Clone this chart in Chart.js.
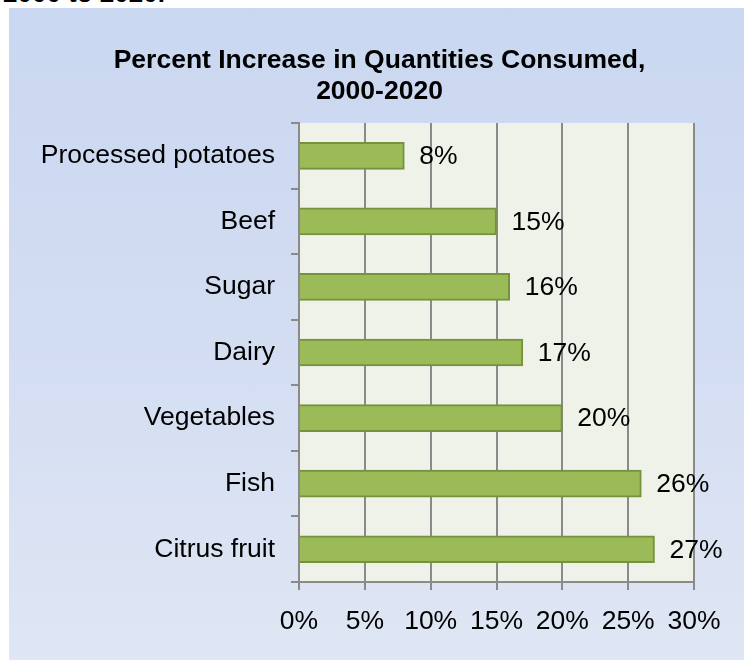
<!DOCTYPE html>
<html>
<head>
<meta charset="utf-8">
<script src="https://cdn.jsdelivr.net/npm/chart.js@4"></script>
<style>
  html, body { margin: 0; padding: 0; background: #ffffff; width: 744px; height: 660px; overflow: hidden; }
  #heading {
    position: absolute; left: 3px; top: -20px;
    font: bold 26px "Liberation Sans", Arial, sans-serif; line-height: 26px; color: #000;
    white-space: nowrap;
  }
  #box {
    position: absolute; left: 9px; top: 8px; width: 735px; height: 652px;
    background: linear-gradient(to bottom, #c9d7f0 0%, #d3ddf2 50%, #dfe6f4 100%);
  }
  canvas { display: block; }
</style>
</head>
<body>
<div id="heading">2000 to 2020.</div>
<div id="box"><canvas id="chart" width="735" height="652"></canvas></div>
<script>
// Food groups and their percent increase in quantities consumed
const categories = ['Processed potatoes', 'Beef', 'Sugar', 'Dairy', 'Vegetables', 'Fish', 'Citrus fruit'];
const increases = [8, 15, 16, 17, 20, 26, 27];
const xTicks = [0, 5, 10, 15, 20, 25, 30];
const titleLines = ['Percent Increase in Quantities Consumed,', '2000-2020'];

const FONT = '"Liberation Sans", Arial, sans-serif';
const GRID = '#8a8a8a';
const TEXT_SIZE = 26.5;

// Light fill behind the plotting area
const plotBackground = {
  id: 'plotBackground',
  beforeDraw(chart) {
    const { ctx, chartArea: a } = chart;
    ctx.save();
    ctx.fillStyle = '#eff2e9';
    ctx.fillRect(a.left, a.top, a.right - a.left, a.bottom - a.top);
    ctx.restore();
  }
};

// Value labels to the right of each bar
const valueLabels = {
  id: 'valueLabels',
  afterDatasetsDraw(chart) {
    const { ctx } = chart;
    const meta = chart.getDatasetMeta(0);
    ctx.save();
    ctx.font = TEXT_SIZE + 'px ' + FONT;
    ctx.fillStyle = '#000';
    ctx.textAlign = 'left';
    ctx.textBaseline = 'middle';
    meta.data.forEach((bar, i) => {
      ctx.fillText(chart.data.datasets[0].data[i] + '%', bar.x + 15, bar.y + 1);
    });
    ctx.restore();
  }
};

new Chart(document.getElementById('chart'), {
  type: 'bar',
  data: {
    labels: categories,
    datasets: [{
      data: increases,
      backgroundColor: '#9bbb59',
      borderColor: '#76923c',
      borderWidth: 2,
      barThickness: 27
    }]
  },
  options: {
    indexAxis: 'y',
    responsive: false,
    animation: false,
    layout: { padding: { left: 6, right: 0, top: 0, bottom: 0 } },
    plugins: {
      legend: { display: false },
      tooltip: { enabled: false },
      title: {
        display: true,
        text: titleLines,
        color: '#000',
        font: { family: FONT, size: 26.5, weight: 'bold', lineHeight: 1.17 },
        padding: { top: 37.5, bottom: 15.5 }
      }
    },
    scales: {
      x: {
        min: 0,
        max: 30,
        afterBuildTicks(scale) { scale.ticks = xTicks.map(v => ({ value: v })); },
        afterFit(scale) { scale.height = 78; scale.paddingRight = 50; },
        grid: { color: GRID, lineWidth: 2, tickLength: 8, drawTicks: true },
        border: { display: true, color: GRID, width: 2 },
        ticks: {
          color: '#000',
          font: { family: FONT, size: TEXT_SIZE },
          padding: 16,
          maxRotation: 0,
          autoSkip: false,
          callback: v => v + '%'
        }
      },
      y: {
        afterFit(scale) { scale.width = 284; },
        grid: { color: GRID, lineWidth: 2, tickLength: 8, drawOnChartArea: false, offset: true },
        border: { display: true, color: GRID, width: 2 },
        ticks: {
          color: '#000',
          font: { family: FONT, size: TEXT_SIZE },
          padding: 16,
          autoSkip: false
        }
      }
    }
  },
  plugins: [plotBackground, valueLabels]
});
</script>
</body>
</html>
